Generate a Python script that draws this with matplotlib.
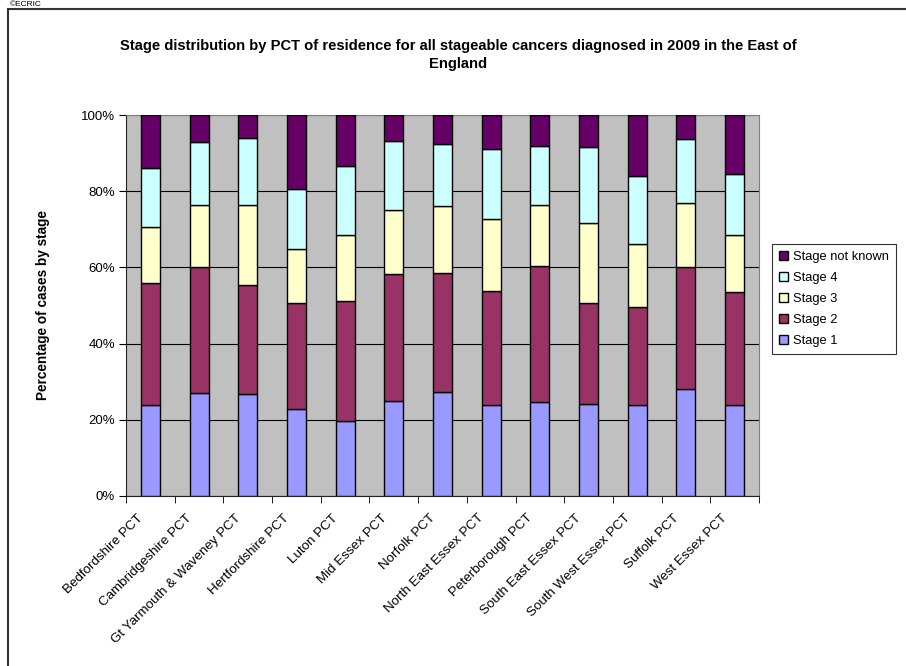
import matplotlib
matplotlib.use("Agg")
import matplotlib.pyplot as plt
import matplotlib.transforms as mtransforms
import numpy as np
from matplotlib.lines import Line2D
from matplotlib.ticker import PercentFormatter

plt.rcParams["font.family"] = ["Liberation Sans", "DejaVu Sans"]

pcts = [
    "Bedfordshire PCT", "Cambridgeshire PCT", "Gt Yarmouth & Waveney PCT",
    "Hertfordshire PCT", "Luton PCT", "Mid Essex PCT", "Norfolk PCT",
    "North East Essex PCT", "Peterborough PCT", "South East Essex PCT",
    "South West Essex PCT", "Suffolk PCT", "West Essex PCT",
]
stage1 = [23.9, 27.1, 26.7, 22.8, 19.7, 24.9, 27.2, 23.8, 24.6, 24.1, 24.0, 28.1, 24.0]
stage2 = [32.0, 32.9, 28.8, 27.8, 31.5, 33.3, 31.4, 29.9, 35.8, 26.6, 25.7, 32.1, 29.5]
stage3 = [14.8, 16.4, 21.0, 14.2, 17.2, 16.9, 17.6, 18.9, 16.0, 21.0, 16.4, 16.7, 15.0]
stage4 = [15.5, 16.6, 17.5, 15.8, 18.2, 18.1, 16.1, 18.6, 15.5, 20.0, 17.8, 16.9, 16.0]
not_known = [13.8, 7.0, 6.0, 19.4, 13.4, 6.8, 7.7, 8.8, 8.1, 8.3, 16.1, 6.2, 15.5]

series = [
    ("Stage 1", stage1, "#9999FF"),
    ("Stage 2", stage2, "#993366"),
    ("Stage 3", stage3, "#FFFFCC"),
    ("Stage 4", stage4, "#CCFFFF"),
    ("Stage not known", not_known, "#660066"),
]

W, H = 906, 666
fig = plt.figure(figsize=(W / 100, H / 100), dpi=100)

# outer chart frame (right/bottom edges are cropped off in the original)
fig.add_artist(Line2D([8 / W, 8 / W], [0, 1 - 9 / H], transform=fig.transFigure,
                      color="#333333", lw=1.5))
fig.add_artist(Line2D([8 / W, 1], [1 - 9 / H, 1 - 9 / H], transform=fig.transFigure,
                      color="#333333", lw=1.5))
fig.text(10 / W, 1 - 0.5 / H, "©ECRIC", fontsize=6, ha="left", va="top")

ax = fig.add_axes([126 / W, 1 - 496 / H, (759 - 126) / W, (496 - 115) / H])
ax.set_facecolor("#C0C0C0")

x = np.arange(len(pcts))
bottom = np.zeros(len(pcts))
handles = []
for name, vals, color in series:
    b = ax.bar(x, vals, width=0.39, bottom=bottom, color=color,
               edgecolor="black", linewidth=1.0, label=name, zorder=3)
    bottom += np.array(vals)
    handles.append(b)

ax.set_xlim(-0.5, len(pcts) - 0.5)
ax.set_ylim(0, 100)
ax.set_yticks(np.arange(0, 101, 20))
ax.yaxis.set_major_formatter(PercentFormatter(decimals=0))
ax.grid(axis="y", color="black", lw=0.8, zorder=1)

ax.set_xticks(x)
ax.set_xticks(np.arange(-0.5, len(pcts)), minor=True)
ax.tick_params(axis="x", which="major", length=0, pad=14.5)
ax.tick_params(axis="x", which="minor", length=5, direction="out")
ax.tick_params(axis="y", length=5, direction="out", labelsize=9.5, pad=3)
ax.set_xticklabels(pcts, rotation=45, ha="right", va="center",
                   rotation_mode="anchor", fontsize=9.6)
shift = mtransforms.ScaledTranslation(-9 / 100, 0, fig.dpi_scale_trans)
for lab in ax.get_xticklabels():
    lab.set_transform(lab.get_transform() + shift)

for side in ["left", "bottom"]:
    ax.spines[side].set_color("#222222")
for side in ["top", "right"]:
    ax.spines[side].set_color("#808080")

ax.set_ylabel("Percentage of cases by stage", fontsize=9.8, fontweight="bold")
ax.yaxis.set_label_coords((50 - 126) / (759 - 126), 0.5)

fig.text(458 / W, 1 - 55 / H,
         "Stage distribution by PCT of residence for all stageable cancers diagnosed in 2009 in the East of\nEngland",
         ha="center", va="center", fontsize=10.6, fontweight="bold", linespacing=1.45)

leg = fig.legend(handles[::-1], [s[0] for s in series][::-1],
                 loc="center left", bbox_to_anchor=(772 / W, 1 - 299 / H),
                 fontsize=9.3, frameon=True, fancybox=False, edgecolor="black",
                 handlelength=0.7, handleheight=0.7, handletextpad=0.35,
                 labelspacing=0.68, borderpad=0.55, borderaxespad=0)
leg.get_frame().set_linewidth(0.8)

fig.savefig("out.png", dpi=100)
